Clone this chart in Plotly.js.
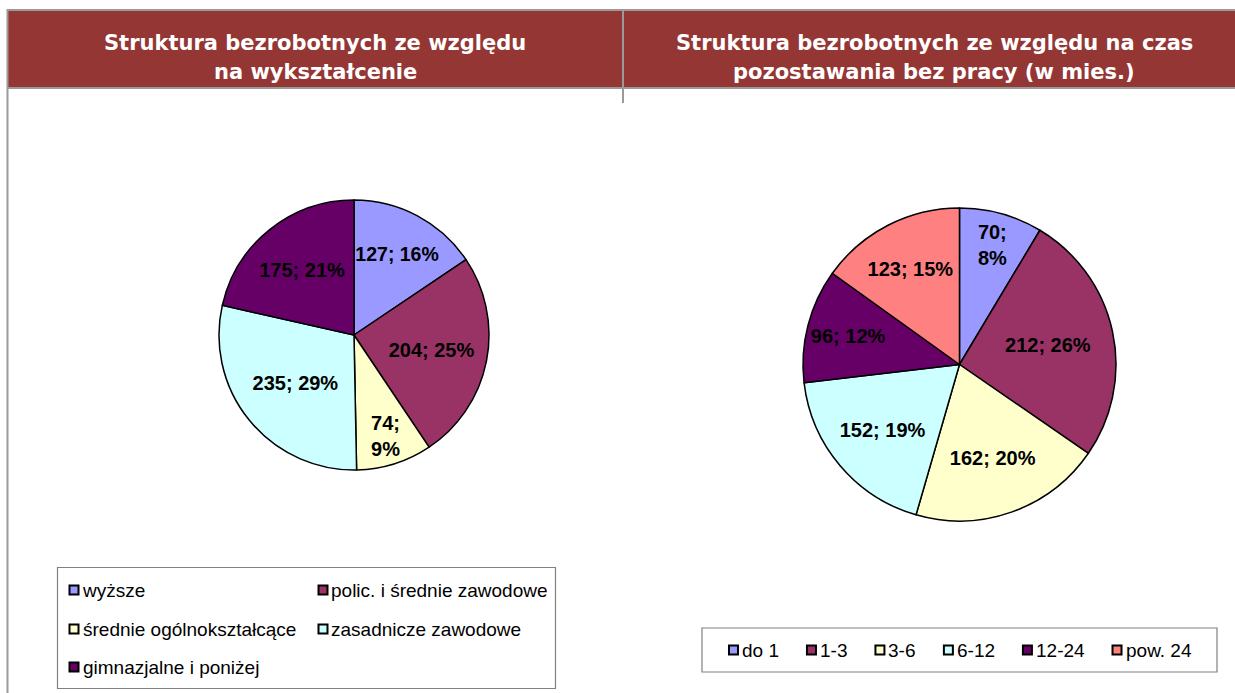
<!DOCTYPE html>
<html>
<head>
<meta charset="utf-8">
<script src="https://cdn.plot.ly/plotly-3.0.1.min.js"></script>
<style>
html,body{margin:0;padding:0;background:#ffffff;}
#chart{width:1235px;height:693px;}
</style>
</head>
<body>
<div id="chart"></div>
<script>
// ---- data ----
const eduLabels = ['wyższe', 'polic. i średnie zawodowe', 'średnie ogólnokształcące', 'zasadnicze zawodowe', 'gimnazjalne i poniżej'];
const eduValues = [127, 204, 74, 235, 175];
const durLabels = ['do 1', '1-3', '3-6', '6-12', '12-24', 'pow. 24'];
const durValues = [70, 212, 162, 152, 96, 123];
const eduColors = ['#9999FF', '#993366', '#FFFFCC', '#CCFFFF', '#660066'];
const durColors = ['#9999FF', '#993366', '#FFFFCC', '#CCFFFF', '#660066', '#FF8080'];
const titleEdu = ['Struktura bezrobotnych ze względu', 'na wykształcenie'];
const titleDur = ['Struktura bezrobotnych ze względu na czas', 'pozostawania bez pracy (w mies.)'];

// ---- helpers ----
const W = 1235, H = 693;
const px = x => x / W;
const py = y => 1 - y / H;

// percentages rounded so that they sum to 100 (largest remainder, as in spreadsheet pie labels)
function roundedPercents(vals) {
  const total = vals.reduce((a, b) => a + b, 0);
  const raw = vals.map(v => v / total * 100);
  const fl = raw.map(Math.floor);
  let rest = 100 - fl.reduce((a, b) => a + b, 0);
  const order = raw.map((r, i) => [r - Math.floor(r), i]).sort((a, b) => b[0] - a[0]);
  for (let k = 0; k < rest; k++) fl[order[k][1]] += 1;
  return fl;
}
function sliceTexts(vals) {
  const p = roundedPercents(vals);
  return vals.map((v, i) => v + (p[i] < 10 ? ';<br>' : '; ') + p[i] + '%');
}

const labelFont = {family: 'Liberation Sans, Arial, sans-serif', size: 20, color: '#000000', weight: 'bold'};

const traces = [
  {
    type: 'pie',
    labels: eduLabels,
    values: eduValues,
    text: sliceTexts(eduValues),
    textinfo: 'text',
    textposition: 'inside',
    insidetextorientation: 'horizontal',
    textfont: labelFont,
    insidetextfont: labelFont,
    sort: false,
    direction: 'clockwise',
    rotation: 0,
    marker: {colors: eduColors, line: {color: '#000000', width: 1.5}},
    domain: {x: [px(218), px(490)], y: [py(470), py(200)]},
    showlegend: false,
    hoverinfo: 'label+value+percent'
  },
  {
    type: 'pie',
    labels: durLabels,
    values: durValues,
    text: sliceTexts(durValues),
    textinfo: 'text',
    textposition: 'inside',
    insidetextorientation: 'horizontal',
    textfont: labelFont,
    insidetextfont: labelFont,
    sort: false,
    direction: 'clockwise',
    rotation: 0,
    marker: {colors: durColors, line: {color: '#000000', width: 1.5}},
    domain: {x: [px(803), px(1116)], y: [py(522), py(207)]},
    showlegend: false,
    hoverinfo: 'label+value+percent'
  }
];

const gray = '#9a9a9a';
const shapes = [
  // header band
  {type: 'rect', xref: 'paper', yref: 'paper', x0: px(7), x1: px(1236), y0: py(88), y1: py(10), fillcolor: '#943634', line: {width: 0}, layer: 'below'},
  {type: 'line', xref: 'paper', yref: 'paper', x0: px(7), x1: px(1236), y0: py(10), y1: py(10), line: {color: gray, width: 2}},
  {type: 'line', xref: 'paper', yref: 'paper', x0: px(7), x1: px(1236), y0: py(88), y1: py(88), line: {color: gray, width: 2}},
  {type: 'line', xref: 'paper', yref: 'paper', x0: px(7.5), x1: px(7.5), y0: py(9), y1: py(694), line: {color: gray, width: 2}},
  {type: 'line', xref: 'paper', yref: 'paper', x0: px(623), x1: px(623), y0: py(9), y1: py(103), line: {color: gray, width: 2}},
  // legend boxes
  {type: 'rect', xref: 'paper', yref: 'paper', x0: px(57.5), x1: px(555.5), y0: py(688.5), y1: py(567.5), line: {color: '#808080', width: 1.2}, fillcolor: 'rgba(0,0,0,0)'},
  {type: 'rect', xref: 'paper', yref: 'paper', x0: px(702), x1: px(1217), y0: py(672), y1: py(628), line: {color: '#808080', width: 1.2}, fillcolor: 'rgba(0,0,0,0)'}
];

const titleFont = {family: 'DejaVu Sans, Verdana, sans-serif', size: 21, color: '#ffffff', weight: 'bold'};
const annotations = [];
[[titleEdu, 315], [titleDur, 934]].forEach(([lines, cx]) => {
  lines.forEach((t, j) => {
    annotations.push({xref: 'paper', yref: 'paper', x: px(cx), y: py(j === 0 ? 43 : 72), xanchor: 'center', yanchor: 'middle',
      text: t, showarrow: false, font: titleFont});
  });
});

const legFont = {family: 'Liberation Sans, Arial, sans-serif', size: 19, color: '#000000'};
function addEntry(x, y, color, label) {
  shapes.push({type: 'rect', xref: 'paper', yref: 'paper', x0: px(x), x1: px(x + 9), y0: py(y + 4.5), y1: py(y - 4.5),
    fillcolor: color, line: {color: '#000000', width: 2}});
  annotations.push({xref: 'paper', yref: 'paper', x: px(x + 11), y: py(y), xanchor: 'left', yanchor: 'middle',
    text: label, showarrow: false, font: legFont});
}

// left legend: 2 columns x 3 rows
const legCols = [69.5, 318.5], legRows = [590, 629, 667];
eduLabels.forEach((lab, i) => addEntry(legCols[i % 2], legRows[Math.floor(i / 2)], eduColors[i], lab));

// right legend: single row, spaced by measured text width
const ctx = document.createElement('canvas').getContext('2d');
ctx.font = "19px 'Liberation Sans'";
const widths = durLabels.map(l => ctx.measureText(l).width);
const symW = 9, gapST = 8, gapItems = 24;
const total = widths.reduce((a, b) => a + b, 0) + durLabels.length * (symW + gapST) + (durLabels.length - 1) * gapItems;
let cur = 962 - total / 2;
durLabels.forEach((lab, i) => {
  addEntry(cur, 650, durColors[i], lab);
  cur += symW + gapST + widths[i] + gapItems;
});

const layout = {
  width: W, height: H,
  margin: {l: 0, r: 0, t: 0, b: 0},
  paper_bgcolor: '#ffffff',
  showlegend: false,
  shapes: shapes,
  annotations: annotations
};

Plotly.newPlot('chart', traces, layout, {displayModeBar: false, staticPlot: true});
</script>
</body>
</html>
